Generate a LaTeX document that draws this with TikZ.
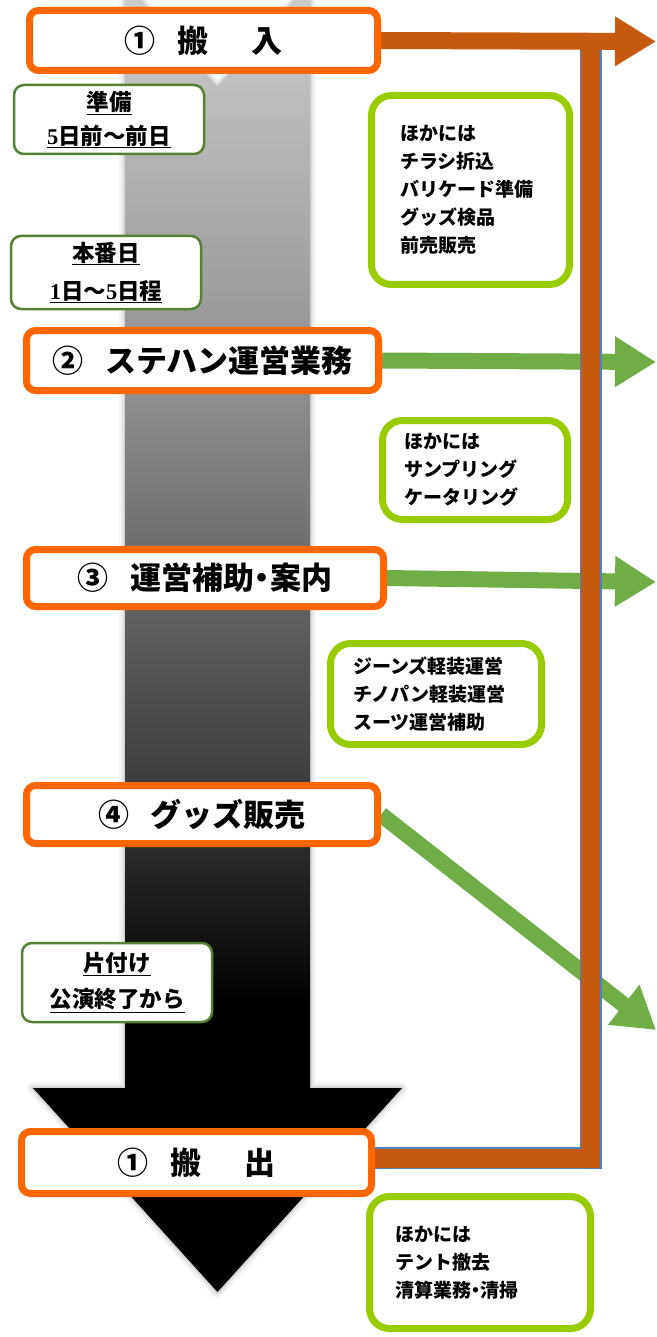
\documentclass[tikz,border=0pt]{standalone}
\usepackage{fontspec}
\newfontfamily\pop{Noto Sans CJK JP Black}
\newfontfamily\gothic{Noto Sans CJK JP}
\newfontfamily\lserif{Liberation Serif}
\usetikzlibrary{arrows.meta}
\definecolor{boxorange}{HTML}{FF6600}
\definecolor{barorange}{HTML}{C55A11}
\definecolor{barblue}{HTML}{4F81BD}
\definecolor{arrowgreen}{HTML}{70AD47}
\definecolor{limegreen}{HTML}{99CC00}
\definecolor{darkgreen}{HTML}{548235}
\pgfdeclarelayer{l0}\pgfdeclarelayer{l1}\pgfdeclarelayer{l2}\pgfdeclarelayer{l3}
\pgfsetlayers{l0,l1,l2,l3,main}
\pgfdeclareverticalshading{shaftshade}{100bp}{color(0bp)=(black); color(36bp)=(black); color(44.5bp)=(black!76); color(59bp)=(black!45); color(74.4bp)=(black!20); color(100bp)=(black!19)}
\begin{document}
\begin{tikzpicture}[x=1pt,y=-1pt,
  stepbox/.style={draw=boxorange, line width=7pt, rounded corners=9pt, fill=white, inner sep=0pt,
    font=\pop\fontsize{31}{36}\selectfont},
  notebox/.style={draw=limegreen, line width=7pt, rounded corners=20pt, fill=white, align=left,
    inner ysep=0pt, font=\pop\fontsize{19}{28}\selectfont},
  datebox/.style={draw=darkgreen, line width=2.5pt, rounded corners=10pt, fill=white, align=center,
    inner sep=0pt, minimum width=190pt, font=\gothic\bfseries\fontsize{22.5}{34}\selectfont},
  garrow/.style={draw=arrowgreen, line width=16pt, -{Triangle[length=41pt,width=48pt]}},
  oarrow/.style={draw=barorange, line width=17pt, -{Triangle[length=41pt,width=47pt]}},
  bigarrow/.style={insert path={(125,-17) -- (217.5,87) -- (310,-17) -- (310,1088) -- (402,1088)
    -- (217.5,1292) -- (33,1088) -- (125,1088) -- cycle}},
]
\useasboundingbox (0,0) rectangle (656,1337);

% step boxes
\node[stepbox, minimum width=348pt, minimum height=60pt] (s1) at (203.5,40.5)
  {①\hspace{0.7em}搬\hspace{1.4em}入};
\node[stepbox, minimum width=352pt, minimum height=60pt] (s2) at (202.5,360.5)
  {②\hspace{0.7em}ステハン運営業務};
\node[stepbox, minimum width=357pt, minimum height=57pt] (s3) at (205,578)
  {③\hspace{0.7em}運営補助\makebox[0.5em]{・}案内};
\node[stepbox, minimum width=351pt, minimum height=58pt] (s4) at (202,814.5)
  {④\hspace{0.7em}グッズ販売};
\node[stepbox, minimum width=350pt, minimum height=62pt] (s5) at (196.5,1162.5)
  {①\hspace{0.7em}搬\hspace{1.4em}出};

% date boxes
\node[datebox, minimum height=69pt] (d1) at (109,119.5)
  {\underline{準備}\\\underline{{\lserif\bfseries 5}日前～前日}};
\node[datebox, minimum height=73pt] (d2) at (106,272.5)
  {\underline{本番日}\\[4pt]\underline{{\lserif\bfseries 1}日～{\lserif\bfseries 5}日程}};
\node[datebox, minimum height=79pt] (d3) at (117,982.5)
  {\underline{片付け}\\[2pt]\underline{公演終了から}};

% note boxes
\node[notebox, text width=141pt, inner xsep=28.5pt, minimum height=189pt] (n1) at (470.5,190)
  {ほかには\\チラシ折込\\バリケード準備\\グッズ検品\\前売販売};
\node[notebox, text width=142pt, inner xsep=21.5pt, minimum height=99pt] (n2) at (475,470)
  {ほかには\\サンプリング\\ケータリング};
\node[notebox, text width=166pt, inner xsep=22.5pt, minimum height=101pt] (n3) at (436,694)
  {ジーンズ軽装運営\\チノパン軽装運営\\スーツ運営補助};
\node[notebox, text width=170pt, inner xsep=25.5pt, minimum height=132pt] (n4) at (480,1262.5)
  {ほかには\\テント撤去\\清算業務\makebox[0.5em]{・}清掃};

% free ends
\coordinate (e1) at (656,41.5);
\coordinate (e2) at (656,362);
\coordinate (e3) at (656,582);
\coordinate (e4) at (656,1030);
\coordinate (bartop) at (590.5,45);

% big timeline arrow
\begin{pgfonlayer}{l0}
  \draw[black, opacity=0.04, line width=12pt, line join=round, bigarrow];
  \draw[black, opacity=0.06, line width=7pt, line join=round, bigarrow];
  \draw[black, opacity=0.09, line width=3pt, line join=round, bigarrow];
  \shade[shading=shaftshade, bigarrow];
\end{pgfonlayer}

% green arrows
\begin{pgfonlayer}{l1}
  \draw[garrow] (s2.east) -- (e2);
  \draw[garrow] (s3.east) -- (e3);
  \draw[garrow] (s4.east) -- (e4);
\end{pgfonlayer}

% L-shaped bar
\begin{pgfonlayer}{l2}
  \draw[barblue, line width=22pt] ([yshift=4.5pt]s5.east) -| (bartop);
  \draw[barorange, line width=19pt] ([yshift=4.5pt]s5.east) -| (bartop);
\end{pgfonlayer}

% top orange arrow
\begin{pgfonlayer}{l3}
  \draw[oarrow] (s1.east) -- (e1);
\end{pgfonlayer}
\end{tikzpicture}
\end{document}
